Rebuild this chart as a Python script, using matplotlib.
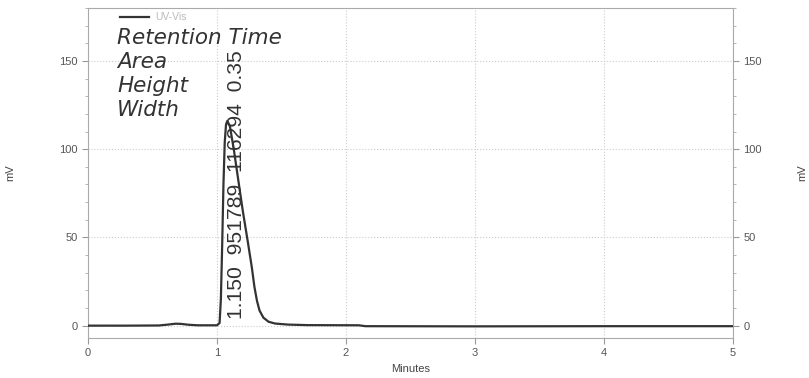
import numpy as np
import matplotlib as mpl
import matplotlib.pyplot as plt
from matplotlib.ticker import MultipleLocator

mpl.rcParams['font.family'] = ['Liberation Sans', 'DejaVu Sans']

# chromatogram trace (minutes, mV)
time_min = [0.0, 0.3, 0.55, 0.62, 0.68, 0.72, 0.78, 0.85, 1.0, 1.02, 1.03, 1.04,
            1.05, 1.06, 1.07, 1.08, 1.10, 1.13, 1.16, 1.20, 1.24, 1.27, 1.29,
            1.31, 1.33, 1.36, 1.40, 1.45, 1.55, 1.7, 2.1, 2.15, 3.0, 4.0, 5.0]
signal_mv = [0.0, 0.0, 0.1, 0.6, 1.1, 1.0, 0.5, 0.2, 0.2, 1.5, 15, 45,
             80, 104, 114, 116, 113, 100, 85, 65, 47, 33, 22,
             14, 8.5, 4.5, 2.2, 1.2, 0.6, 0.3, 0.2, -0.3, -0.4, -0.3, -0.3]

peak_rt = 1.150
peak_area = 951789
peak_height = 116294
peak_width = 0.35
header_rows = ["Retention Time", "Area", "Height", "Width"]

fig = plt.figure(figsize=(8.09, 3.78), dpi=100)
ax = fig.add_axes([88/809, 40/378, 645/809, 330/378])

ax.plot(time_min, signal_mv, color='#333333', lw=1.6, zorder=3, label='UV-Vis')

ax.set_xlim(0, 5)
ax.set_ylim(-7, 180)
ax.set_xticks([0, 1, 2, 3, 4, 5])
ax.set_yticks([0, 50, 100, 150])
ax.yaxis.set_minor_locator(MultipleLocator(10))
ax.grid(True, which='major', color='#cccccc', ls=':', lw=0.8)
ax.tick_params(axis='both', colors='#999999', labelcolor='#555555', labelsize=8,
               length=4, width=0.8)
ax.tick_params(axis='y', which='minor', colors='#aaaaaa', length=2)
for s in ax.spines.values():
    s.set_color('#aaaaaa')
    s.set_linewidth(0.8)
ax.set_xlabel('Minutes', fontsize=8, color='#444444', labelpad=4)
ax.set_ylabel('mV', fontsize=8, color='#444444')
ax.yaxis.set_label_coords(-0.113, 0.5)

ax2 = ax.twinx()
ax2.set_ylim(ax.get_ylim())
ax2.set_yticks([0, 50, 100, 150])
ax2.yaxis.set_minor_locator(MultipleLocator(10))
ax2.tick_params(axis='y', colors='#999999', labelcolor='#555555', labelsize=8,
                length=4, width=0.8)
ax2.tick_params(axis='y', which='minor', colors='#aaaaaa', length=2)
for s in ax2.spines.values():
    s.set_visible(False)
ax2.set_ylabel('mV', fontsize=8, color='#444444')
ax2.yaxis.set_label_coords(1.1, 0.5)

leg = ax.legend(loc='upper left', bbox_to_anchor=(0.035, 1.015), frameon=False,
                fontsize=7.5, handlelength=2.8, handletextpad=0.6)
for t in leg.get_texts():
    t.set_color('#bbbbbb')

for i, row in enumerate(header_rows):
    ax.text(0.045, 0.91 - i * 0.073, row, transform=ax.transAxes,
            fontsize=15.5, style='italic', color='#333333', va='center', ha='left',
            family='DejaVu Sans')

peak_label = f"{peak_rt:.3f}  {peak_area}  {peak_height}  {peak_width}"
ax.text(peak_rt, 4, peak_label, rotation=90, ha='center', va='bottom',
        fontsize=15.2, color='#333333', zorder=2)

fig.savefig('out.png', dpi=100)
